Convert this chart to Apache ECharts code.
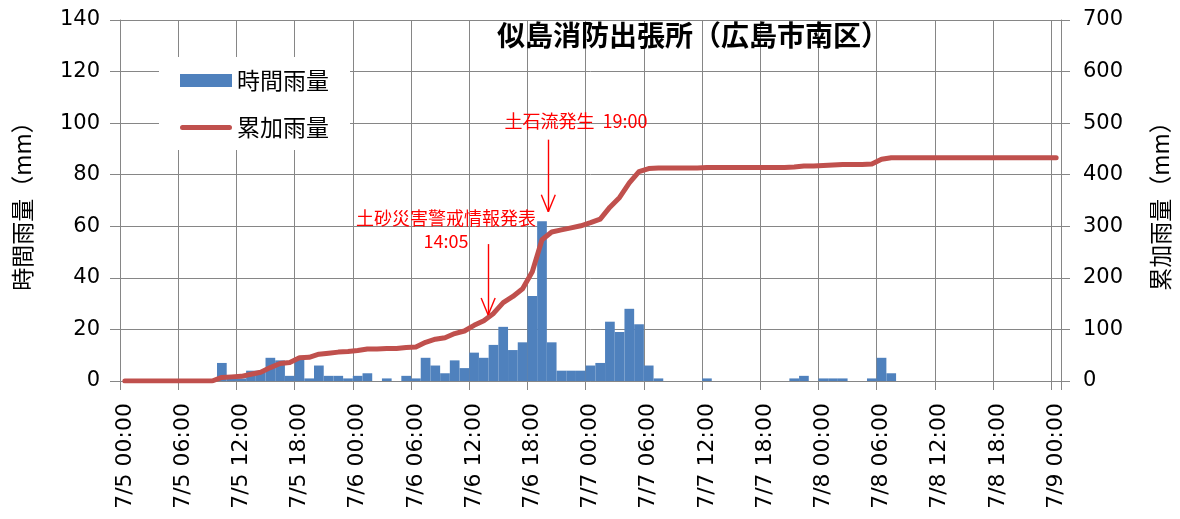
<!DOCTYPE html>
<html>
<head>
<meta charset="utf-8">
<script src="https://cdn.jsdelivr.net/npm/echarts@6/dist/echarts.min.js"></script>
<style>
html,body{margin:0;padding:0;background:#fff;}
#chart{width:1180px;height:519px;}
</style>
</head>
<body>
<div id="chart"></div>
<script>
// ---- data ----
const days = ['7/5', '7/6', '7/7', '7/8', '7/9'];
const hours = ['00:00','01:00','02:00','03:00','04:00','05:00','06:00','07:00','08:00','09:00','10:00','11:00',
               '12:00','13:00','14:00','15:00','16:00','17:00','18:00','19:00','20:00','21:00','22:00','23:00'];
const categories = [];
for (let d = 0; d < 4; d++) for (let h = 0; h < 24; h++) categories.push(days[d] + ' ' + hours[h]);
categories.push(days[4] + ' ' + hours[0]);

// 時間雨量 (mm), one value per hour from 7/5 00:00 to 7/9 00:00
const hourlyRain = [
  0, 0, 0, 0, 0, 0, 0, 0, 0, 0, 7, 1, 1, 4, 4, 9, 8, 2, 9, 1, 6, 2, 2, 1,          // 7/5
  2, 3, 0, 1, 0, 2, 1, 9, 6, 3, 8, 5, 11, 9, 14, 21, 12, 15, 33, 62, 15, 4, 4, 4,  // 7/6
  6, 7, 23, 19, 28, 22, 6, 1, 0, 0, 0, 0, 1, 0, 0, 0, 0, 0, 0, 0, 0, 1, 2, 0,      // 7/7
  1, 1, 1, 0, 0, 1, 9, 3, 0, 0, 0, 0, 0, 0, 0, 0, 0, 0, 0, 0, 0, 0, 0, 0,          // 7/8
  0                                                                                // 7/9
];
// 累加雨量 (mm)
const cumulativeRain = [
  0, 0, 0, 0, 0, 0, 0, 0, 0, 0, 7, 8, 9, 13, 17, 26, 34, 36, 45, 46, 52, 54, 56, 57,
  59, 62, 62, 63, 63, 65, 66, 75, 81, 84, 92, 97, 108, 117, 131, 152, 164, 179, 212, 274, 289, 293, 297, 301,
  307, 314, 337, 356, 384, 406, 412, 413, 413, 413, 413, 413, 414, 414, 414, 414, 414, 414, 414, 414, 414, 415, 417, 417,
  418, 419, 420, 420, 420, 421, 430, 433, 433, 433, 433, 433, 433, 433, 433, 433, 433, 433, 433, 433, 433, 433, 433, 433,
  433
];
const seriesNames = ['時間雨量', '累加雨量'];
const titleText = '似島消防出張所（広島市南区）';
const leftAxisName = '時間雨量（mm）';
const rightAxisName = '累加雨量（mm）';
const noteWarning = '土砂災害警戒情報発表\n14:05';
const noteDebris = '土石流発生  19:00';

// ---- chart ----
const gridColor = '#868686';
const cjk = '"Noto Sans CJK JP", sans-serif';
const num = '"DejaVu Sans", sans-serif';
const red = '#FF0000';
const lineColor = '#C0504D';
const barColor = '#4F81BD';

const chart = echarts.init(document.getElementById('chart'), null, {renderer: 'canvas'});

function arrow(x, yTop, yTip) {
  const dx = 0.72, dy = 6.6;
  return [
    [{coord: [x, yTop]}, {coord: [x, yTip]}],
    [{coord: [x - dx, yTip + dy]}, {coord: [x, yTip]}],
    [{coord: [x + dx, yTip + dy]}, {coord: [x, yTip]}]
  ];
}

const lineIcon = 'path://M0,0L0.01,0L0,0.01ZM52,13L51.99,13L52,12.99Z' +
                 'M2.5,4L49.5,4A2.5,2.5,0,0,1,49.5,9L2.5,9A2.5,2.5,0,0,1,2.5,4Z';

const option = {
  animation: false,
  backgroundColor: '#fff',
  title: {
    text: titleText,
    left: 497, top: 21, padding: 0,
    textStyle: {fontFamily: cjk, fontWeight: 'bold', fontSize: 28, color: '#000'}
  },
  legend: {
    data: [
      {name: seriesNames[0], icon: 'rect'},
      {name: seriesNames[1], icon: lineIcon, itemStyle: {color: lineColor}}
    ],
    orient: 'vertical',
    left: 159, top: 57,
    padding: [12, 21, 11, 21],
    backgroundColor: '#fff',
    itemGap: 24,
    itemWidth: 52, itemHeight: 13,
    textStyle: {fontFamily: cjk, fontSize: 23, color: '#000', lineHeight: 22}
  },
  grid: {left: 120, right: 119, top: 20, bottom: 138, containLabel: false},
  xAxis: [{
    type: 'category',
    data: categories,
    boundaryGap: true,
    axisLine: {lineStyle: {color: gridColor, width: 1}},
    axisTick: {show: true, interval: 5, length: 9, lineStyle: {color: gridColor}},
    axisLabel: {interval: 5, rotate: 90, fontFamily: num, fontSize: 22, color: '#000', margin: 22},
    splitLine: {show: true, interval: 5, lineStyle: {color: gridColor, width: 1}}
  }, {
    type: 'value', min: 0, max: 97, show: false
  }],
  yAxis: [{
    type: 'value', min: 0, max: 140, interval: 20,
    name: leftAxisName, nameLocation: 'middle', nameRotate: 90, nameGap: 86,
    nameTextStyle: {fontFamily: cjk, fontSize: 23, color: '#000'},
    axisLine: {show: true, lineStyle: {color: gridColor}},
    axisTick: {show: true, length: 10, lineStyle: {color: gridColor}},
    axisLabel: {fontFamily: num, fontSize: 21, color: '#000', margin: 20},
    splitLine: {show: true, lineStyle: {color: gridColor, width: 1}}
  }, {
    type: 'value', min: 0, max: 700, interval: 100, position: 'right',
    name: rightAxisName, nameLocation: 'middle', nameRotate: 90, nameGap: 88,
    nameTextStyle: {fontFamily: cjk, fontSize: 23, color: '#000'},
    axisLine: {show: true, lineStyle: {color: gridColor}},
    axisTick: {show: true, length: 9, lineStyle: {color: gridColor}},
    axisLabel: {fontFamily: num, fontSize: 21, color: '#000', margin: 22},
    splitLine: {show: false}
  }],
  series: [{
    name: seriesNames[0],
    type: 'bar',
    xAxisIndex: 0, yAxisIndex: 0,
    data: hourlyRain,
    barCategoryGap: '0%', barGap: '0%',
    itemStyle: {color: barColor},
    z: 2
  }, {
    name: seriesNames[1],
    type: 'line',
    xAxisIndex: 0, yAxisIndex: 1,
    data: cumulativeRain,
    symbol: 'none', showSymbol: false,
    lineStyle: {color: lineColor, width: 5, cap: 'round', join: 'round'},
    itemStyle: {color: lineColor},
    z: 3
  }, {
    type: 'scatter',
    xAxisIndex: 1, yAxisIndex: 0,
    data: [],
    silent: true,
    z: 5,
    markLine: {
      silent: true,
      symbol: ['none', 'none'],
      label: {show: false},
      lineStyle: {color: red, width: 1.4, type: 'solid'},
      emphasis: {disabled: true},
      data: arrow(37.95, 53.1, 25.6).concat(arrow(44.15, 93.6, 65.6))
    },
    markPoint: {
      silent: true,
      symbol: 'circle', symbolSize: 0,
      itemStyle: {color: 'transparent'},
      label: {show: true, position: 'inside', color: red, fontFamily: cjk, fontSize: 18, lineHeight: 23, align: 'center'},
      data: [
        {coord: [33.6, 58.7], label: {formatter: noteWarning}},
        {coord: [47.0, 100.7], label: {formatter: noteDebris}}
      ]
    }
  }]
};
chart.setOption(option);
</script>
</body>
</html>
